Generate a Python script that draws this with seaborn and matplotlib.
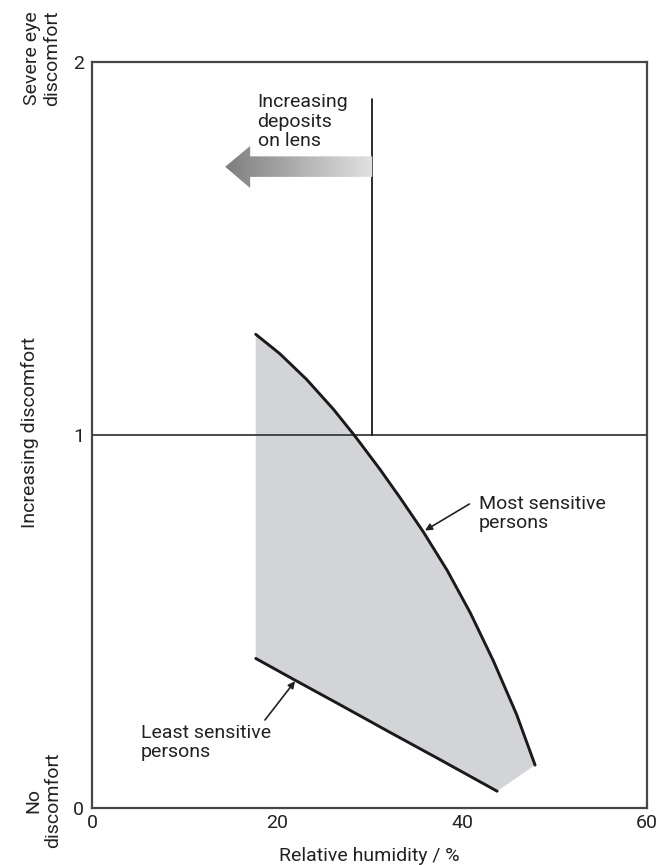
import numpy as np
import pandas as pd
import matplotlib
matplotlib.use("Agg")
import matplotlib.pyplot as plt
import matplotlib.transforms as mtransforms
from matplotlib.patches import Polygon
from matplotlib.colors import LinearSegmentedColormap
import seaborn as sns

# ---- data ----
upper_rh = [17.7, 20.3, 23.2, 26.1, 28.4, 31.1, 33.3, 35.8, 38.4, 40.9, 43.4, 45.9, 47.9]
upper_disc = [1.270, 1.218, 1.149, 1.069, 0.998, 0.909, 0.832, 0.741, 0.637, 0.523, 0.394, 0.251, 0.115]
lower_rh = [17.7, 22.0, 26.8, 32.2, 37.6, 43.8]
lower_disc = [0.401, 0.342, 0.277, 0.203, 0.130, 0.045]

x_ticks = [0, 20, 40, 60]
y_ticks = [0, 1, 2]
threshold_level = 1.0
lens_rh = 30.3
lens_top = 1.90

side_labels = ["Severe eye\ndiscomfort", "Increasing discomfort", "No\ndiscomfort"]
side_label_levels = [2.01, 1.008, 0.02]

# ---- style ----
sns.set_style("white")
plt.rcParams["font.family"] = ["Roboto", "DejaVu Sans"]
plt.rcParams["font.size"] = 14
TXT = "#222222"
SPINE = "#474747"

fig = plt.figure(figsize=(6.64, 8.65), dpi=100)
ax = fig.add_axes([92 / 664, 57 / 865, 555 / 664, 746 / 865])

# fill between curves
poly_x = list(upper_rh) + list(lower_rh[::-1])
poly_y = list(upper_disc) + list(lower_disc[::-1])
ax.fill(poly_x, poly_y, color="#d3d4d7", lw=0, zorder=1)

df_up = pd.DataFrame({"rh": upper_rh, "d": upper_disc})
df_lo = pd.DataFrame({"rh": lower_rh, "d": lower_disc})
sns.lineplot(data=df_up, x="rh", y="d", ax=ax, color="#1a1a1a", lw=2.1,
             estimator=None, zorder=3, solid_joinstyle="round", solid_capstyle="round")
sns.lineplot(data=df_lo, x="rh", y="d", ax=ax, color="#1a1a1a", lw=2.1,
             estimator=None, zorder=3, solid_joinstyle="round", solid_capstyle="round")

# threshold and lens line
ax.axhline(threshold_level, color="#3c3c3c", lw=1.3, zorder=2)
ax.plot([lens_rh, lens_rh], [threshold_level, lens_top], color="#1a1a1a", lw=1.3, zorder=2)

# gradient arrow
verts = [(14.4, 1.719), (17.1, 1.775), (17.1, 1.747), (lens_rh, 1.747),
         (lens_rh, 1.692), (17.1, 1.692), (17.1, 1.662)]
arrow = Polygon(verts, closed=True, facecolor="none", edgecolor="none")
ax.add_patch(arrow)
grad = np.linspace(0, 1, 256).reshape(1, -1)
cmap = LinearSegmentedColormap.from_list("g", ["#7e7e7e", "#e2e2e2"])
im = ax.imshow(grad, cmap=cmap, extent=[14.4, lens_rh, 1.66, 1.78],
               aspect="auto", interpolation="bilinear", zorder=2)
im.set_clip_path(arrow)

# texts
ax.text(17.9, 1.84, "Increasing\ndeposits\non lens", fontsize=14, color=TXT,
        va="center", ha="left", linespacing=1.1)
ax.text(41.8, 0.79, "Most sensitive\npersons", fontsize=14, color=TXT,
        va="center", ha="left", linespacing=1.1)
ax.text(5.3, 0.175, "Least sensitive\npersons", fontsize=14, color=TXT,
        va="center", ha="left", linespacing=1.1)

arrowprops = dict(arrowstyle="-|>", color="#222222", lw=1.2, mutation_scale=10,
                  shrinkA=0, shrinkB=0)
ax.annotate("", xy=(36.0, 0.744), xytext=(40.8, 0.815), arrowprops=arrowprops)
ax.annotate("", xy=(21.95, 0.340), xytext=(18.7, 0.236), arrowprops=arrowprops)

# side labels
blend = mtransforms.blended_transform_factory(fig.transFigure, ax.transData)
ax.text(42 / 664, side_label_levels[0], side_labels[0], transform=blend, rotation=90,
        ha="center", va="center", multialignment="center", fontsize=14,
        color=TXT, linespacing=1.15)
ax.text(30 / 664, side_label_levels[1], side_labels[1], transform=blend, rotation=90,
        ha="center", va="center", fontsize=14, color=TXT)
ax.text(43 / 664, side_label_levels[2], side_labels[2], transform=blend, rotation=90,
        ha="center", va="center", multialignment="center", fontsize=14,
        color=TXT, linespacing=1.15)

# axes
ax.set_xlim(0, 60)
ax.set_ylim(0, 2)
ax.set_xticks(x_ticks)
ax.set_xticklabels([str(v) for v in x_ticks])
ax.set_yticks(y_ticks)
ax.set_yticklabels([str(v) for v in y_ticks])
ax.tick_params(axis="x", direction="in", length=4.5, width=1.2, color=SPINE,
               pad=4, labelsize=14, labelcolor=TXT)
ax.tick_params(axis="y", length=0, pad=5.5, labelsize=14, labelcolor=TXT)
ax.set_xlabel("Relative humidity / %", fontsize=14, color=TXT)
ax.set_ylabel("")
ax.xaxis.set_label_coords(0.5, -0.052)
for s in ax.spines.values():
    s.set_color(SPINE)
    s.set_linewidth(1.6)
    s.set_visible(True)

fig.savefig("out.png", dpi=100)
